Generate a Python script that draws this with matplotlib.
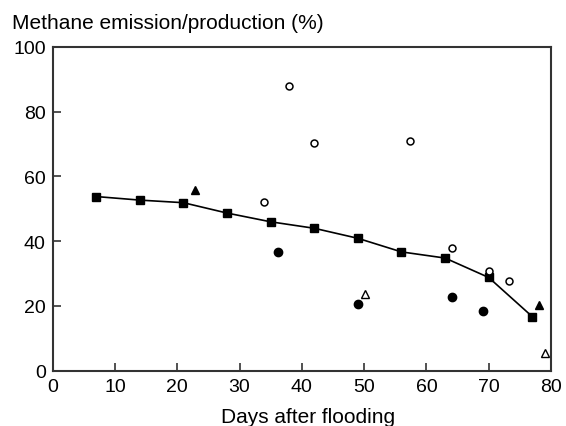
import matplotlib
matplotlib.use("Agg")
import matplotlib.pyplot as plt

plt.rcParams['font.family'] = ['Liberation Sans', 'DejaVu Sans']

# Data
sq_x = [7, 14, 21, 28, 35, 42, 49, 56, 63, 70, 77]
sq_y = [53.8, 52.7, 51.9, 48.7, 46.0, 44.0, 40.9, 36.7, 34.8, 28.8, 16.7]
oc_x = [34, 38, 42, 57.3, 64.1, 70.1, 73.2]
oc_y = [52.1, 88.0, 70.2, 71.0, 37.8, 30.9, 27.6]
fc_x = [36.1, 49, 64.1, 69.1]
fc_y = [36.7, 20.6, 22.7, 18.3]
ft_x = [22.9, 78.1]
ft_y = [55.7, 20.4]
ot_x = [50.1, 79.1]
ot_y = [23.8, 5.4]
x_ticks = [0, 10, 20, 30, 40, 50, 60, 70, 80]
y_ticks = [0, 20, 40, 60, 80, 100]

W, H = 566, 427
fig = plt.figure(figsize=(W/100, H/100), dpi=100)
L, R, T, B = 52.6, 551, 48, 371.7
ax = fig.add_axes([L/W, 1-B/H, (R-L)/W, (B-T)/H])

ax.plot(sq_x, sq_y, color='black', lw=1.2, marker='s', ms=6, mfc='black', mec='black', zorder=3)
ax.plot(oc_x, oc_y, ls='none', marker='o', ms=5, mfc='white', mec='black', mew=1.1, zorder=3)
ax.plot(fc_x, fc_y, ls='none', marker='o', ms=6, mfc='black', mec='black', zorder=3)
ax.plot(ft_x, ft_y, ls='none', marker='^', ms=5.5, mfc='black', mec='black', zorder=3)
ax.plot(ot_x, ot_y, ls='none', marker='^', ms=5.5, mfc='white', mec='black', mew=1.0, zorder=3)

ax.set_xlim(0, 80)
ax.set_ylim(0, 100)
ax.set_xticks(x_ticks)
ax.set_yticks(y_ticks)
ax.tick_params(direction='in', length=6, width=1.2, color='#333333', labelsize=14,
               labelcolor='black')
ax.tick_params(axis='x', pad=5)
ax.tick_params(axis='y', pad=5)
for s in ax.spines.values():
    s.set_linewidth(1.5)
    s.set_color('#333333')

fig.text(308/W, 1-423/H, 'Days after flooding', fontsize=15, va='baseline', ha='center')
fig.text(11.7/W, 1-29/H, 'Methane emission/production (%)', fontsize=15, va='baseline', ha='left')

fig.savefig('out.png', dpi=100)
